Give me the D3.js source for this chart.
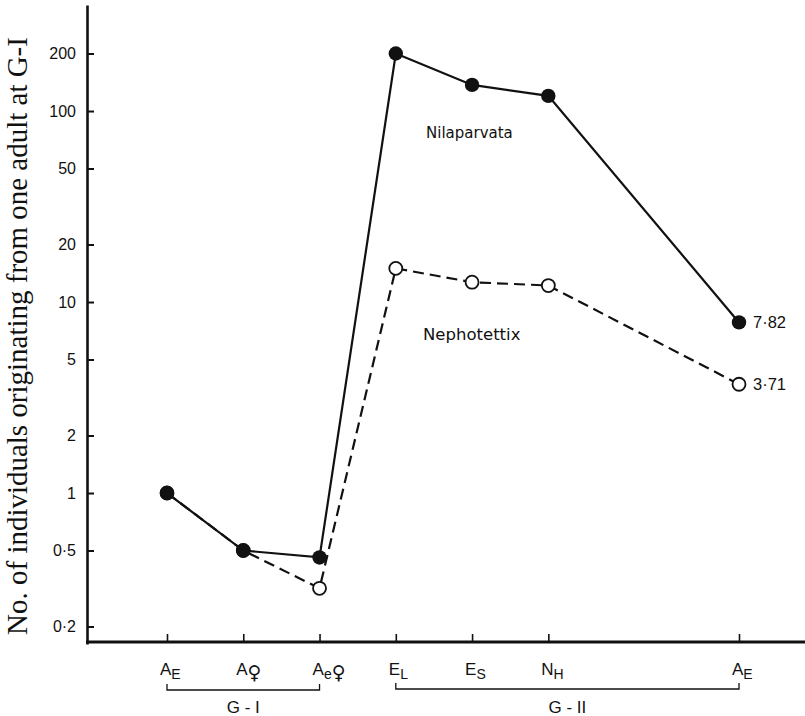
<!DOCTYPE html>
<html>
<head>
<meta charset="utf-8">
<script src="https://cdn.jsdelivr.net/npm/d3@7"></script>
<style>
  html, body { margin: 0; padding: 0; background: #fff; }
  svg { display: block; }
  text { fill: #111; }
</style>
</head>
<body>
<svg id="chart" width="805" height="716"></svg>
<script>
// Developmental stages along the x axis (main letter + subscript)
const stageMain = ["A", "A", "A", "E", "E", "N", "A"];
const stageSub = ["E", "♀", "e♀", "L", "S", "H", "E"];
// Ordinal position of each stage (the final adult stage sits further out)
const stageOrder = [0, 1, 2, 3, 4, 5, 7.5];

// Individuals originating from one adult at G-I
const nilaparvata = [1, 0.5, 0.46, 200, 137, 120, 7.82];
const nephotettix = [1, 0.5, 0.317, 15, 12.7, 12.2, 3.71];

// Final-stage value labels
const endLabels = ["7·82", "3·71"];

// Y-axis ticks
const yTickValues = [0.2, 0.5, 1, 2, 5, 10, 20, 50, 100, 200];

// Generation brackets: [first stage index, last stage index, label]
const generations = [[0, 2, "G - I"], [3, 6, "G - II"]];

const svg = d3.select("#chart");
const ink = "#111";
const sans = "Liberation Sans, Arial, sans-serif";

const x = d3.scaleLinear().domain([0, 7.5]).range([167, 739]);
const y = d3.scaleLog().domain([0.162, 359]).range([644, 5]);
const axisX = 87, axisY = 642;

// Y axis: ticks point inward, labels on the left
const yAxis = d3.axisLeft(y)
  .tickValues(yTickValues)
  .tickSizeInner(-7)
  .tickSizeOuter(0)
  .tickPadding(11)
  .tickFormat(d => String(d).replace(".", "·"));
const gy = svg.append("g").attr("transform", `translate(${axisX},0)`).call(yAxis);
gy.select(".domain").attr("stroke", ink).attr("stroke-width", 2.6);
gy.selectAll(".tick line").attr("stroke", ink).attr("stroke-width", 2);
gy.selectAll(".tick text")
  .attr("font-family", sans)
  .attr("font-size", 16).attr("fill", ink);

// X axis line
svg.append("line")
  .attr("x1", axisX - 1).attr("x2", 805)
  .attr("y1", axisY).attr("y2", axisY)
  .attr("stroke", ink).attr("stroke-width", 3);

// X axis ticks (pointing up)
const xAxis = d3.axisBottom(x)
  .tickValues(stageOrder)
  .tickSizeInner(-8)
  .tickSizeOuter(0)
  .tickFormat("");
const gx = svg.append("g").attr("transform", `translate(0,${axisY})`).call(xAxis);
gx.select(".domain").remove();
gx.selectAll(".tick line").attr("stroke", ink).attr("stroke-width", 1.6);

// Stage labels with subscripts
const stageLabels = svg.append("g")
  .attr("font-family", sans)
  .selectAll("text")
  .data(stageOrder)
  .join("text")
  .attr("x", d => x(d) - 7)
  .attr("y", 675)
  .attr("font-size", 17);
stageLabels.append("tspan").text((d, i) => stageMain[i]);
stageLabels.append("tspan")
  .attr("font-size", 14)
  .attr("dy", 4)
  .each(function (d, i) {
    // the female sign is drawn larger so it matches the letter subscripts
    const parts = stageSub[i].split(/(♀)/).filter(s => s.length);
    const t = d3.select(this);
    parts.forEach(p => {
      t.append("tspan")
        .attr("font-family", p === "♀" ? "DejaVu Sans, sans-serif" : sans)
        .attr("font-size", p === "♀" ? 19 : 14)
        .text(p);
    });
  });

// Generation brackets
const br = svg.append("g");
generations.forEach(([a, b, label], k) => {
  const x0 = x(stageOrder[a]), x1 = x(stageOrder[b]);
  const yb = 690 - k;
  br.append("path")
    .attr("d", `M${x0},${yb - 6}V${yb}H${x1}V${yb - 6}`)
    .attr("fill", "none").attr("stroke", ink).attr("stroke-width", 1.3);
  br.append("text")
    .attr("x", (x0 + x1) / 2).attr("y", 713)
    .attr("text-anchor", "middle")
    .attr("font-family", sans)
    .attr("font-size", 17)
    .text(label);
});

// Y-axis title, sized to span the axis
const title = svg.append("text")
  .attr("transform", "translate(27,336) rotate(-90)")
  .attr("text-anchor", "middle")
  .attr("font-family", "Liberation Serif, Times New Roman, serif")
  .attr("font-size", 20)
  .text("No. of individuals originating from one adult at G-I");
const tl = title.node().getComputedTextLength();
title.attr("font-size", 20 * 598 / tl);

const line = d3.line()
  .x((d, i) => x(stageOrder[i]))
  .y(d => y(d));

// Nephotettix (dashed, open circles)
svg.append("path")
  .datum(nephotettix)
  .attr("d", line)
  .attr("fill", "none").attr("stroke", ink)
  .attr("stroke-width", 2.2)
  .attr("stroke-dasharray", "11,6");
svg.append("g").selectAll("circle")
  .data(nephotettix)
  .join("circle")
  .attr("cx", (d, i) => x(stageOrder[i]))
  .attr("cy", d => y(d))
  .attr("r", 6.5)
  .attr("fill", "#fff").attr("stroke", ink).attr("stroke-width", 1.8);

// Nilaparvata (solid, filled circles)
svg.append("path")
  .datum(nilaparvata)
  .attr("d", line)
  .attr("fill", "none").attr("stroke", ink)
  .attr("stroke-width", 2.2);
svg.append("g").selectAll("circle")
  .data(nilaparvata)
  .join("circle")
  .attr("cx", (d, i) => x(stageOrder[i]))
  .attr("cy", d => y(d))
  .attr("r", 7.2)
  .attr("fill", ink);

// Values at the final stage
const last = stageOrder.length - 1;
[nilaparvata[last], nephotettix[last]].forEach((v, k) => {
  svg.append("text")
    .attr("x", x(stageOrder[last]) + 14)
    .attr("y", y(v) + 6)
    .attr("font-family", sans)
    .attr("font-size", 16.5)
    .text(endLabels[k]);
});

// Series names
svg.append("text")
  .attr("x", 426).attr("y", 138)
  .attr("font-family", "DejaVu Sans, sans-serif")
  .attr("font-size", 15)
  .text("Nilaparvata");
svg.append("text")
  .attr("x", 423).attr("y", 340)
  .attr("font-family", "DejaVu Sans, sans-serif")
  .attr("font-size", 16.5)
  .text("Nephotettix");
</script>
</body>
</html>
